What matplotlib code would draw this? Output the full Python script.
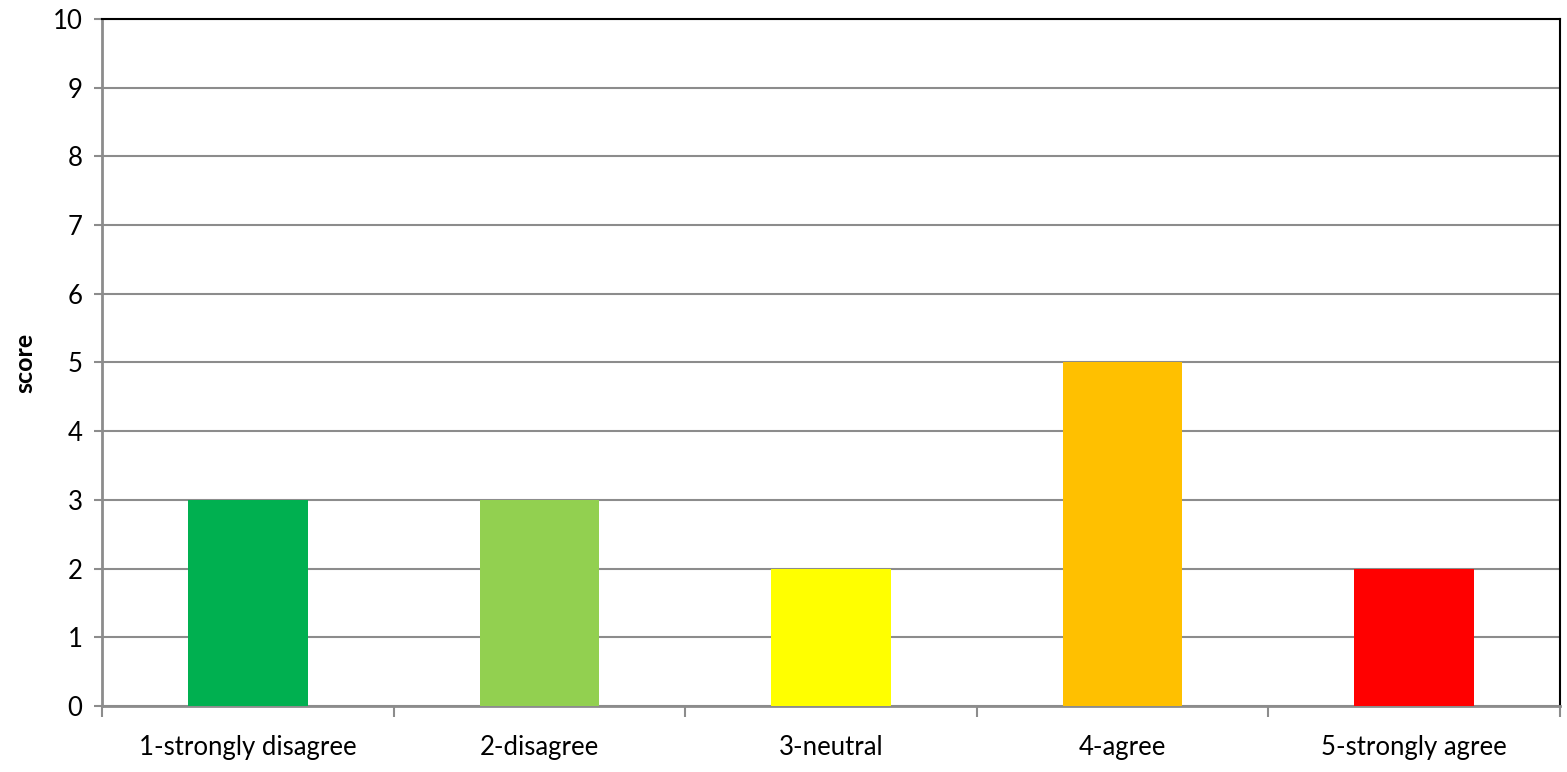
import numpy as np
import matplotlib.pyplot as plt
from matplotlib.ticker import FixedLocator, NullFormatter

categories = ['1-strongly disagree', '2-disagree', '3-neutral', '4-agree', '5-strongly agree']
scores = [3, 3, 2, 5, 2]
bar_colors = ['#00B050', '#92D050', '#FFFF00', '#FFC000', '#FF0000']

plt.rcParams['font.family'] = ['Lato', 'DejaVu Sans']

fig = plt.figure(figsize=(15.67, 7.72), dpi=100)
ax = fig.add_axes([0.0651, 0.0855, 0.9304, 0.8899])

x = np.arange(len(categories))
ax.bar(x, scores, width=0.41, color=bar_colors, zorder=3)

ax.set_xlim(-0.5, len(categories) - 0.5)
ax.set_ylim(0, 10)
ax.set_yticks(range(0, 11))
ax.yaxis.grid(True, color='#8c8c8c', linewidth=1.5, zorder=0)

# category labels centred, tick marks between categories
ax.set_xticks(x)
ax.set_xticklabels(categories, fontsize=18.5)
ax.tick_params(axis='x', which='major', length=0, pad=21)
ax.xaxis.set_minor_locator(FixedLocator(np.arange(-0.5, len(categories), 1.0)))
ax.xaxis.set_minor_formatter(NullFormatter())
ax.tick_params(axis='x', which='minor', length=8, width=1.5, color='#8c8c8c', direction='out')
ax.tick_params(axis='y', labelsize=18.5, length=6, width=1.5, color='#8c8c8c', pad=8)

for side in ['left', 'bottom']:
    ax.spines[side].set_color('#8c8c8c')
    ax.spines[side].set_linewidth(2)
for side in ['top', 'right']:
    ax.spines[side].set_color('black')
    ax.spines[side].set_linewidth(1.5)

ax.set_ylabel('score', fontsize=18, fontweight='bold', labelpad=12)

plt.savefig('out.png', dpi=100)
